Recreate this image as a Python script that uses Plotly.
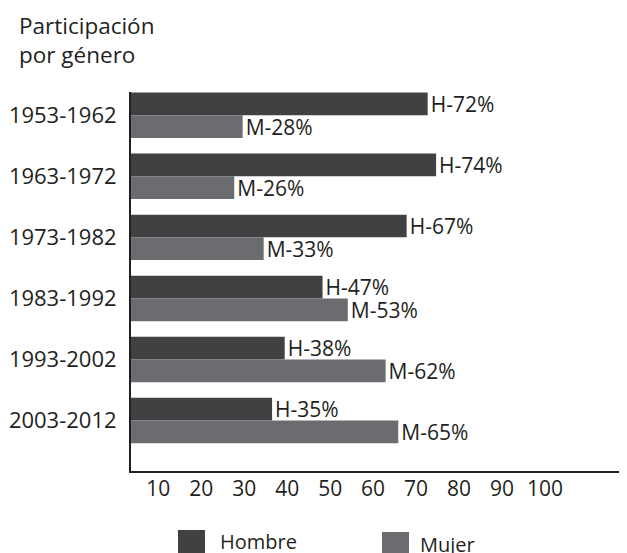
import plotly.graph_objects as go

# Data
periods = ["1953-1962", "1963-1972", "1973-1982", "1983-1992", "1993-2002", "2003-2012"]
hombre = [72, 74, 67, 47, 38, 35]
mujer = [28, 26, 33, 53, 62, 65]
tick_values = [10, 20, 30, 40, 50, 60, 70, 80, 90, 100]
tick_labels = [str(v) for v in tick_values]

DARK = "#414143"
GREY = "#6b6c6f"
INK = "#231f20"
FONT = "Open Sans"

# the page body adds an 8px margin, so the figure is drawn 8px smaller
OFF = 8
W, H = 627 - OFF, 553 - OFF
L, R, T, B = 131 - OFF, 0, 92 - OFF, 82


def paper(x, y):
    # page pixel position -> paper coordinates
    x, y = x - OFF, y - OFF
    return (x - L) / (W - L - R), (H - B - y) / (H - T - B)


fig = go.Figure()

fig.add_trace(go.Bar(
    y=periods, x=hombre, orientation="h", name="Hombre",
    marker=dict(color=DARK, line=dict(width=0)),
    texttemplate="H-%{x}%", textposition="outside", constraintext="none",
    textfont=dict(family=FONT, size=21, color=INK), cliponaxis=False,
))
fig.add_trace(go.Bar(
    y=periods, x=mujer, orientation="h", name="Mujer",
    marker=dict(color=GREY, line=dict(width=0)),
    texttemplate="M-%{x}%", textposition="outside", constraintext="none",
    textfont=dict(family=FONT, size=21, color=INK), cliponaxis=False,
))
# empty trace so the printed-scale axis gets drawn
fig.add_trace(go.Scatter(x=[], y=[], xaxis="x2", yaxis="y", showlegend=False,
                         hoverinfo="skip"))

fig.update_layout(
    width=W, height=H,
    margin=dict(l=L, r=R, t=T, b=B),
    paper_bgcolor="white", plot_bgcolor="white",
    barmode="group", bargap=0.256, bargroupgap=0,
    showlegend=False,
    font=dict(family=FONT, color=INK),
    xaxis=dict(
        range=[1.45, 119.4], showticklabels=False, showgrid=False,
        zeroline=False, showline=True, linecolor=INK, linewidth=2, ticks="",
    ),
    # separate axis carrying the printed scale
    xaxis2=dict(
        overlaying="x", anchor="y", side="bottom",
        range=[3.65, 119.1], tickvals=tick_values, ticktext=tick_labels,
        showgrid=False, zeroline=False, showline=False, ticks="",
        tickfont=dict(family=FONT, size=21, color=INK),
        ticklabelstandoff=3,
    ),
    yaxis=dict(
        type="category", range=[5.826, -0.38],
        showgrid=False, zeroline=False, showline=True,
        linecolor=INK, linewidth=2, ticks="",
        tickfont=dict(family=FONT, size=22, color=INK),
        ticklabelstandoff=8,
    ),
)

# title
tx, ty = paper(17, 8)
fig.add_annotation(xref="paper", yref="paper", x=tx, y=ty,
                   xanchor="left", yanchor="top", showarrow=False, align="left",
                   text="Participación<br>por género",
                   font=dict(family=FONT, size=22.5, color=INK))

# legend drawn by hand to get the large swatches
legend_items = [("Hombre", DARK, 178, 530, 218, 541), ("Mujer", GREY, 382, 532, 418, 544)]
for label, color, sx, sy, lx, ly in legend_items:
    x0, y0 = paper(sx, sy)
    x1, y1 = paper(sx + 27, sy + 30)
    fig.add_shape(type="rect", xref="paper", yref="paper",
                  x0=x0, x1=x1, y0=y1, y1=y0,
                  fillcolor=color, line=dict(width=0))
    ax, ay = paper(lx, ly)
    fig.add_annotation(xref="paper", yref="paper", x=ax, y=ay,
                       xanchor="left", yanchor="middle", showarrow=False,
                       text=label, font=dict(family=FONT, size=20, color=INK))

fig.write_html("out.html")
